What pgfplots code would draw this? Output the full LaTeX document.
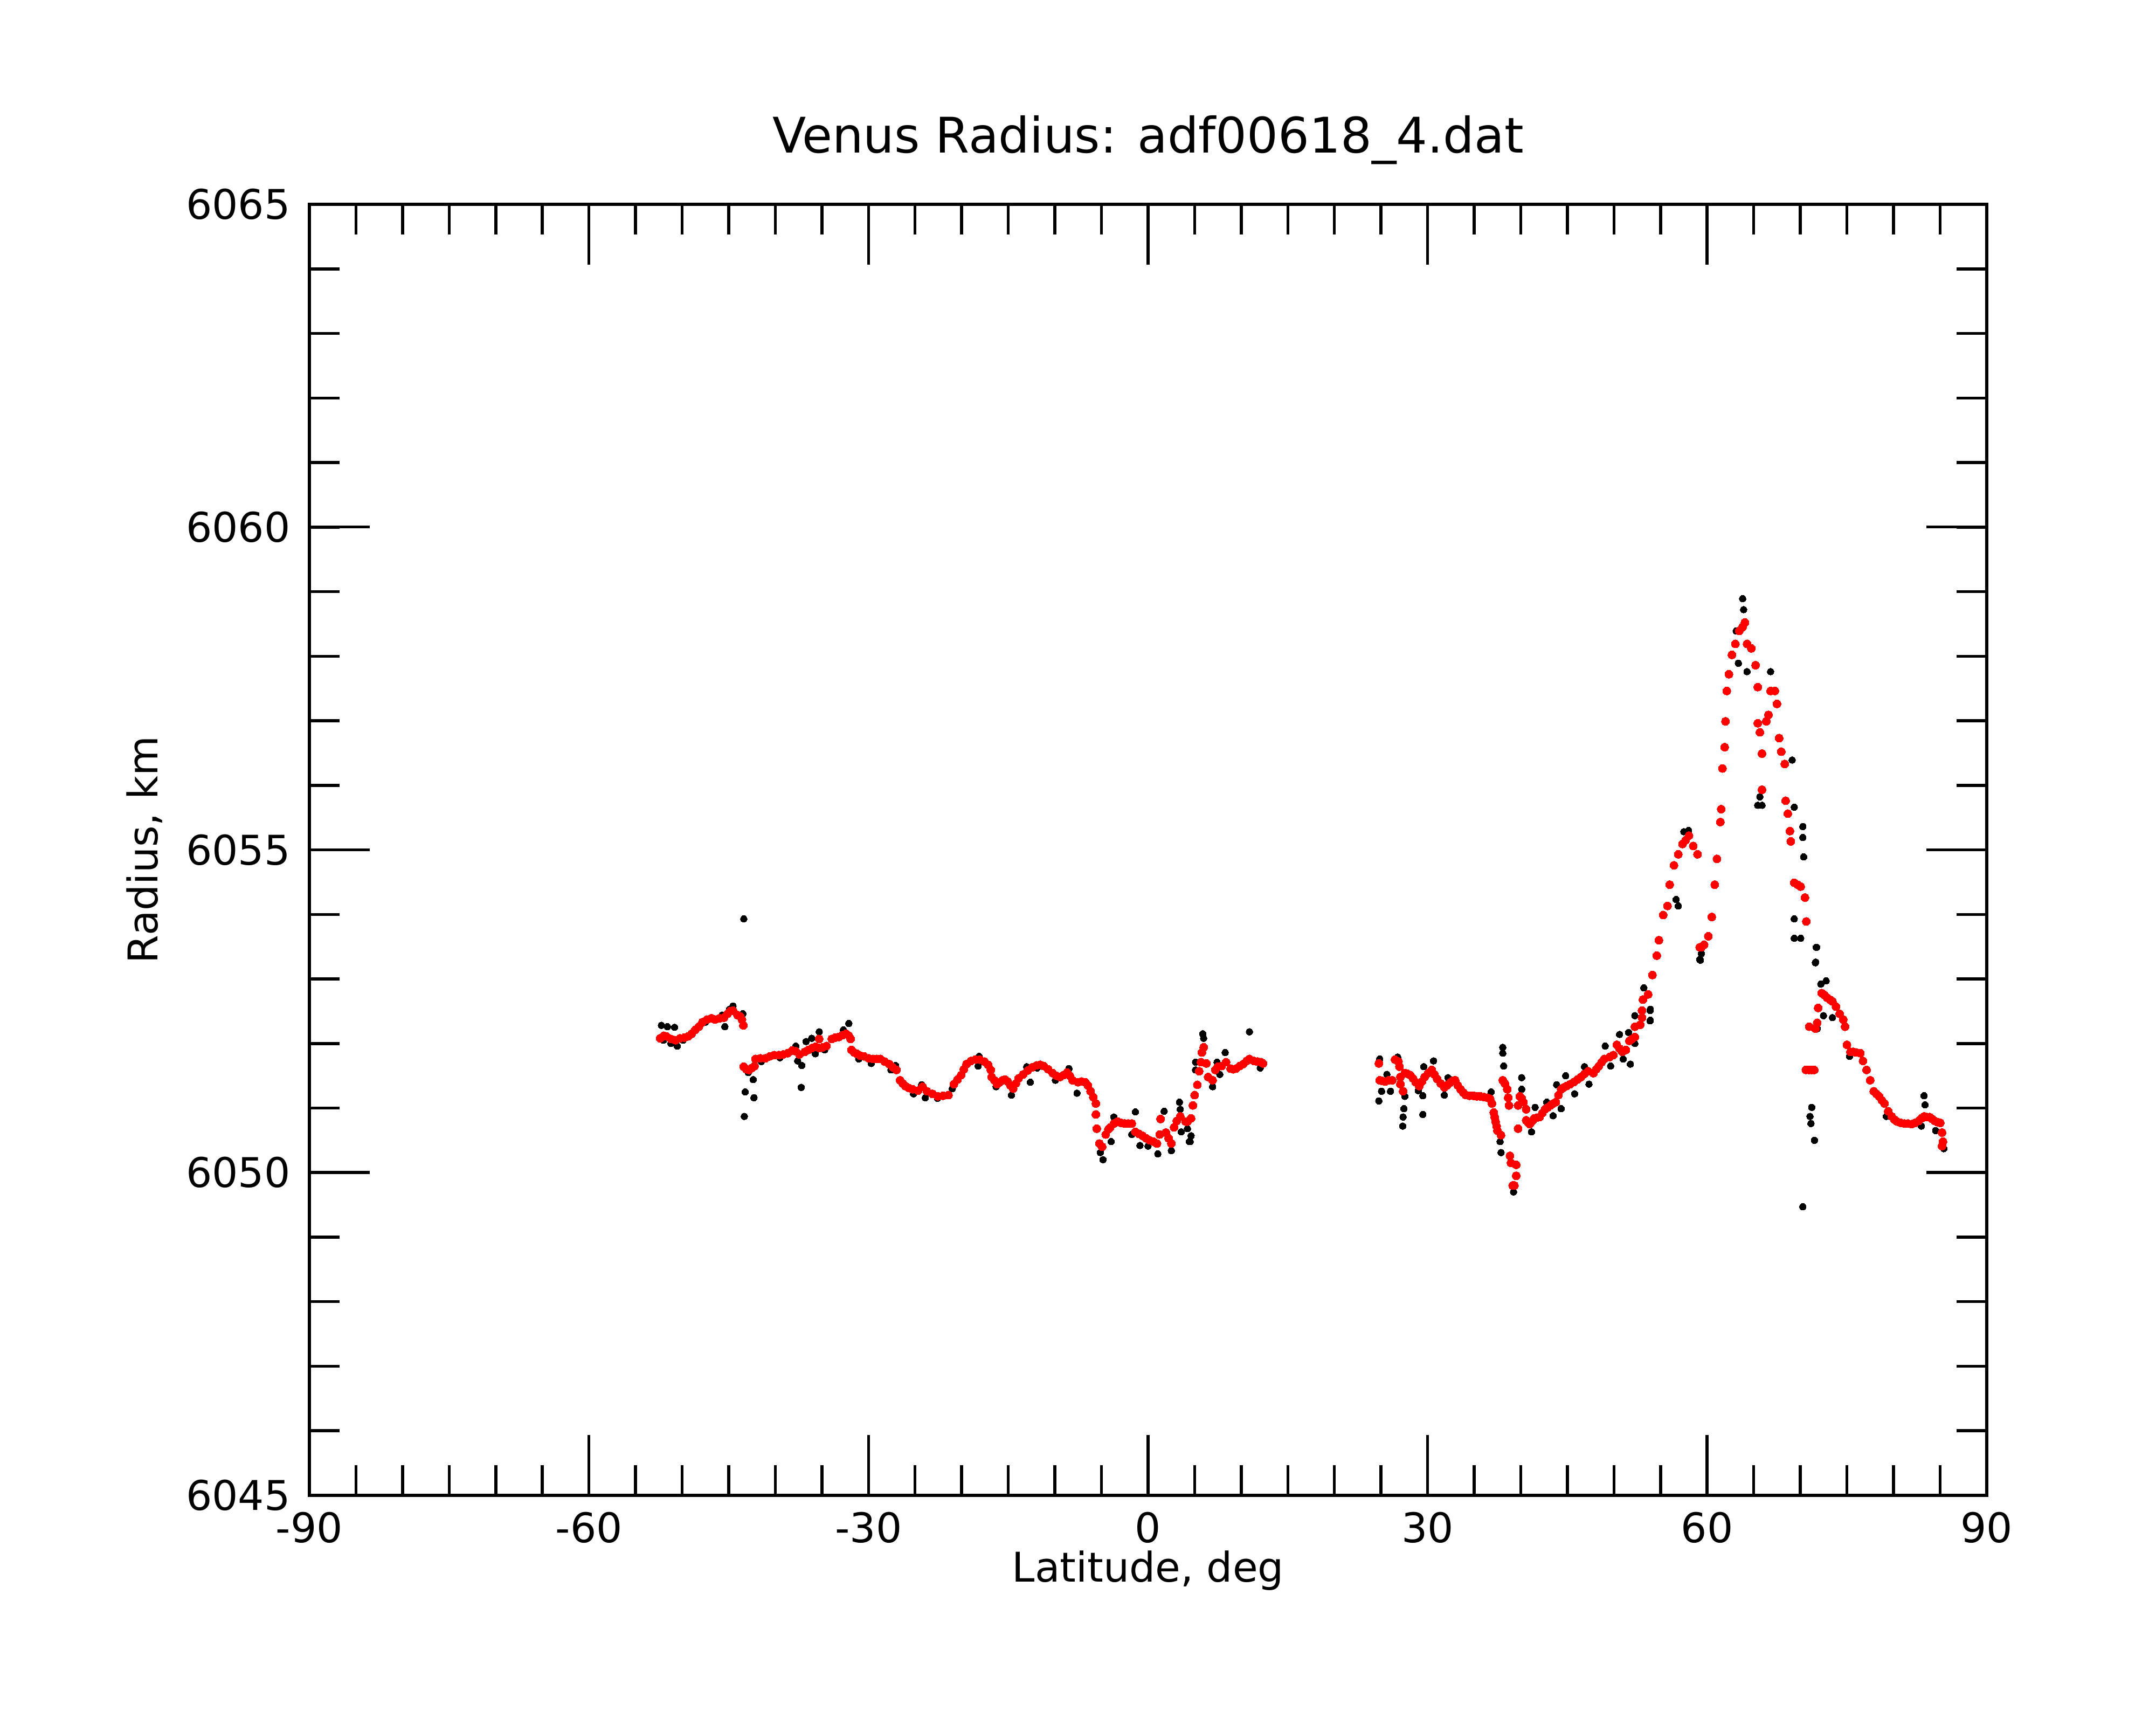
\documentclass[border=0pt]{standalone}
\usepackage{fontspec}
\setmainfont{DejaVu Sans}
\usepackage{pgfplots}
\pgfplotsset{compat=1.18}
\usepackage{pgfplotstable}

\pgfplotstableread{
lat r
-52.22 6052.28
-51.58 6052.26
-50.81 6052.25
-51.20 6052.00
-50.52 6051.96
-45.41 6052.26
-44.54 6052.58
-43.48 6052.46
-45.70 6052.44
-52.00 6052.05
-49.90 6052.05
-47.50 6052.33
-44.90 6052.53
-43.38 6053.93
-43.33 6050.87
-43.23 6051.25
-42.29 6051.16
-42.37 6051.44
-42.90 6051.55
-37.22 6051.32
-37.16 6051.66
-37.60 6051.73
-37.80 6051.96
-35.29 6052.18
-36.10 6052.08
-35.71 6051.84
-34.70 6051.90
-32.11 6052.31
-32.69 6052.21
-31.05 6051.76
-29.70 6051.69
-27.58 6051.59
-27.10 6051.66
-25.17 6051.22
-24.30 6051.36
-23.90 6051.16
-36.70 6052.03
-41.50 6051.72
-39.50 6051.78
-18.13 6051.80
-18.23 6051.65
-14.66 6051.20
-12.63 6051.40
-13.02 6051.64
-7.62 6051.23
-8.49 6051.61
-9.94 6051.43
-4.83 6050.20
-5.12 6050.31
-3.96 6050.48
-3.67 6050.86
-1.36 6050.94
-1.74 6050.59
-0.87 6050.42
1.05 6050.29
1.73 6050.95
2.50 6050.34
3.37 6051.09
3.46 6050.98
3.56 6050.63
4.52 6050.48
4.62 6050.57
5.10 6051.71
5.10 6051.59
0.00 6050.41
-22.60 6051.15
-21.00 6051.30
-16.30 6051.33
-11.90 6051.62
5.87 6052.15
5.97 6052.08
10.88 6052.18
8.28 6051.86
12.04 6051.62
6.93 6051.33
4.43 6050.48
4.23 6050.68
7.41 6051.71
7.70 6051.52
24.86 6051.76
24.77 6051.11
25.06 6051.26
25.63 6051.52
26.02 6051.26
26.79 6051.79
27.56 6051.18
27.46 6050.99
27.37 6050.86
27.33 6050.72
29.49 6050.90
29.49 6051.19
29.59 6051.64
30.64 6051.73
29.00 6051.27
31.80 6051.20
32.19 6051.47
38.07 6051.94
38.07 6051.85
38.17 6051.65
37.88 6050.31
37.78 6050.48
39.23 6049.70
40.10 6051.47
40.10 6051.29
41.15 6050.63
41.54 6051.01
42.79 6051.09
43.47 6050.88
43.85 6051.36
44.33 6050.99
44.82 6051.50
45.78 6051.22
46.84 6051.64
47.32 6051.37
49.06 6051.96
49.64 6051.65
50.60 6052.14
50.99 6051.76
51.57 6052.17
51.76 6051.68
52.24 6052.43
53.88 6052.51
53.88 6052.35
52.24 6052.00
36.82 6051.25
53.21 6052.86
53.90 6052.36
53.90 6052.53
56.67 6054.23
56.90 6054.13
57.50 6055.28
58.00 6055.30
59.20 6053.30
59.28 6053.29
59.38 6053.39
63.81 6058.89
63.91 6058.72
63.35 6057.89
64.28 6057.76
63.12 6058.39
66.81 6057.76
65.89 6055.69
65.66 6055.82
65.43 6055.69
70.27 6055.36
70.27 6055.19
70.36 6054.89
69.35 6053.93
69.35 6053.63
70.04 6053.63
71.75 6053.49
71.65 6053.26
71.71 6053.49
71.62 6053.25
70.27 6049.47
69.35 6055.66
69.12 6056.39
72.20 6052.92
72.77 6052.97
72.49 6052.43
73.45 6052.40
71.81 6052.23
71.23 6051.01
71.04 6050.87
71.14 6050.76
71.52 6050.50
75.28 6051.80
79.23 6050.87
83.28 6051.19
83.38 6051.05
82.99 6050.72
84.53 6050.65
85.40 6050.37
}\rawdata

\pgfplotstableread{
lat r
-52.35 6052.08
-51.97 6052.12
-51.68 6052.11
-51.20 6052.07
-50.71 6052.05
-50.23 6052.08
-49.75 6052.09
-49.36 6052.11
-48.98 6052.15
-48.59 6052.21
-48.20 6052.26
-47.82 6052.33
-47.34 6052.37
-46.86 6052.39
-46.47 6052.37
-45.99 6052.39
-45.51 6052.40
-45.12 6052.46
-44.83 6052.50
-44.54 6052.51
-44.06 6052.44
-43.77 6052.42
-43.58 6052.37
-43.43 6052.28
-43.39 6051.64
-43.10 6051.60
-42.81 6051.59
-42.52 6051.62
-42.23 6051.65
-42.13 6051.76
-41.60 6051.77
-41.07 6051.77
-40.59 6051.80
-40.11 6051.82
-39.62 6051.82
-39.14 6051.83
-38.66 6051.85
-38.18 6051.89
-37.80 6051.88
-37.41 6051.83
-36.83 6051.87
-36.45 6051.90
-36.06 6051.93
-35.68 6051.95
-35.29 6052.07
-35.29 6051.93
-34.90 6051.94
-34.52 6051.96
-33.94 6052.07
-33.56 6052.09
-33.17 6052.10
-32.78 6052.13
-32.40 6052.15
-32.11 6052.12
-31.92 6052.07
-31.82 6051.90
-31.53 6051.86
-31.24 6051.84
-30.86 6051.81
-30.47 6051.80
-29.98 6051.77
-29.50 6051.76
-29.12 6051.76
-28.73 6051.76
-28.25 6051.72
-27.77 6051.68
-27.38 6051.63
-27.00 6051.59
-26.61 6051.43
-26.32 6051.38
-26.04 6051.34
-25.65 6051.31
-25.26 6051.29
-24.69 6051.27
-24.20 6051.33
-23.72 6051.26
-23.14 6051.22
-22.56 6051.18
-21.99 6051.19
-21.41 6051.20
-20.83 6051.37
-20.45 6051.44
-20.06 6051.51
-19.77 6051.60
-19.48 6051.68
-19.00 6051.73
-18.52 6051.75
-18.04 6051.75
-17.55 6051.72
-17.17 6051.67
-16.88 6051.59
-16.78 6051.48
-16.49 6051.43
-16.20 6051.37
-15.91 6051.40
-15.62 6051.43
-15.34 6051.44
-15.05 6051.41
-14.76 6051.35
-14.47 6051.30
-14.18 6051.38
-13.89 6051.46
-13.41 6051.52
-12.92 6051.58
-12.44 6051.63
-11.96 6051.66
-11.57 6051.67
-11.19 6051.65
-10.71 6051.60
-10.23 6051.54
-9.84 6051.50
-9.45 6051.48
-9.07 6051.51
-8.68 6051.55
-8.39 6051.50
-8.10 6051.43
-7.52 6051.40
-7.14 6051.41
-6.75 6051.40
-6.46 6051.35
-6.17 6051.26
-5.88 6051.17
-5.60 6051.07
-5.60 6050.90
-5.50 6050.68
-5.21 6050.45
-4.92 6050.40
-4.54 6050.59
-4.25 6050.67
-4.06 6050.70
-3.67 6050.76
-3.28 6050.79
-2.89 6050.77
-2.51 6050.76
-2.12 6050.76
-1.74 6050.76
-1.36 6050.63
-0.97 6050.60
-0.59 6050.57
-0.20 6050.53
0.18 6050.50
0.57 6050.48
0.96 6050.45
1.34 6050.83
1.25 6050.59
1.92 6050.62
2.21 6050.53
2.50 6050.45
2.79 6050.70
3.08 6050.80
3.46 6050.87
4.04 6050.79
4.23 6050.79
4.62 6050.84
4.81 6051.04
5.00 6051.20
5.29 6051.36
5.49 6051.57
5.68 6051.71
5.78 6051.86
5.97 6051.94
6.26 6051.69
6.45 6051.48
6.93 6051.43
7.22 6051.59
7.51 6051.64
7.90 6051.65
8.38 6051.71
8.86 6051.61
9.15 6051.60
9.44 6051.61
9.83 6051.65
10.21 6051.68
10.59 6051.73
10.88 6051.76
11.37 6051.73
11.75 6051.72
12.14 6051.71
12.33 6051.69
24.77 6051.69
24.86 6051.43
25.15 6051.42
25.44 6051.41
25.83 6051.43
26.21 6051.43
26.50 6051.75
26.88 6051.72
26.98 6051.64
27.08 6051.48
27.08 6051.37
27.37 6051.26
27.56 6051.54
27.85 6051.53
28.14 6051.51
28.43 6051.46
28.72 6051.40
29.10 6051.34
29.39 6051.41
29.68 6051.48
30.07 6051.54
30.45 6051.59
30.74 6051.52
31.03 6051.45
31.41 6051.38
31.80 6051.32
32.09 6051.35
32.38 6051.39
32.67 6051.42
32.96 6051.43
33.25 6051.35
33.54 6051.29
33.83 6051.24
34.12 6051.20
34.51 6051.19
34.89 6051.19
35.28 6051.18
35.66 6051.18
36.05 6051.17
36.43 6051.16
36.72 6051.14
36.91 6051.07
37.10 6050.93
37.20 6050.86
37.30 6050.79
37.40 6050.72
37.49 6050.65
37.88 6050.58
38.07 6051.43
38.30 6051.38
38.55 6051.29
38.65 6051.16
38.74 6051.04
38.84 6050.26
38.94 6050.15
39.51 6050.12
39.51 6049.95
39.13 6049.80
39.32 6049.80
39.71 6050.68
39.71 6051.04
39.90 6051.18
40.10 6051.15
40.29 6051.09
40.58 6050.98
40.58 6050.81
40.77 6050.78
40.96 6050.75
41.25 6050.80
41.44 6050.84
41.73 6050.85
42.02 6050.86
42.31 6050.92
42.60 6050.98
42.89 6051.01
43.18 6051.04
43.47 6051.07
43.76 6051.09
44.05 6051.20
44.33 6051.29
44.62 6051.32
44.91 6051.34
45.30 6051.37
45.68 6051.40
46.07 6051.44
46.46 6051.48
46.84 6051.53
47.23 6051.57
47.80 6051.54
48.09 6051.60
48.38 6051.65
48.67 6051.71
48.96 6051.76
49.54 6051.79
49.93 6051.82
50.31 6051.98
50.60 6051.92
50.89 6051.87
51.28 6051.90
51.66 6052.04
51.95 6052.07
52.24 6052.10
52.24 6052.26
52.82 6052.29
53.01 6052.40
53.01 6052.51
53.11 6052.68
53.67 6052.76
54.13 6053.06
54.60 6053.36
54.83 6053.60
55.29 6053.99
55.75 6054.13
55.98 6054.46
56.44 6054.76
56.90 6054.93
57.36 6055.09
57.70 6055.15
58.05 6055.22
58.51 6055.06
58.97 6054.93
59.20 6053.49
59.38 6053.49
59.67 6053.53
60.13 6053.66
60.50 6053.96
60.82 6054.46
61.05 6054.86
61.42 6055.43
61.51 6055.63
61.65 6056.26
61.88 6056.59
61.97 6056.99
62.11 6057.46
62.34 6057.72
62.66 6058.02
63.03 6058.19
63.45 6058.39
63.80 6058.45
64.05 6058.52
64.28 6058.19
64.74 6058.12
65.20 6057.86
65.43 6057.52
65.43 6056.96
65.66 6056.82
65.89 6056.49
65.89 6055.93
66.35 6056.99
66.58 6057.09
66.81 6057.46
67.27 6057.46
67.50 6057.26
67.73 6056.73
67.96 6056.52
68.33 6056.33
68.43 6055.76
68.66 6055.56
68.89 6055.29
68.98 6055.13
69.35 6054.49
69.70 6054.46
70.04 6054.43
70.50 6054.26
70.64 6053.89
70.96 6052.26
70.60 6051.59
70.90 6051.59
71.20 6051.59
71.50 6051.59
71.62 6052.23
71.81 6052.32
71.91 6052.55
72.29 6052.78
72.58 6052.75
72.87 6052.71
73.16 6052.68
73.45 6052.65
73.83 6052.57
74.22 6052.46
74.61 6052.37
74.80 6052.26
75.00 6051.98
75.38 6051.87
75.67 6051.87
75.96 6051.86
76.44 6051.85
76.73 6051.73
77.11 6051.59
77.50 6051.43
77.88 6051.26
78.17 6051.22
78.46 6051.18
78.75 6051.12
79.04 6051.07
79.43 6050.95
79.81 6050.87
80.10 6050.82
80.39 6050.79
80.78 6050.77
81.16 6050.76
81.55 6050.76
81.93 6050.75
82.32 6050.77
82.70 6050.80
83.00 6050.84
83.28 6050.87
83.57 6050.86
83.86 6050.86
84.15 6050.83
84.44 6050.80
84.73 6050.78
85.02 6050.77
85.21 6050.62
85.31 6050.48
85.21 6050.41
}\smoothdata

\begin{document}
\begin{tikzpicture}
\path[use as bounding box] (0pt,0pt) rectangle (400pt,320pt);
\begin{axis}[
  at={(57.4pt,42.6pt)}, anchor=south west,
  scale only axis, width=311.2pt, height=239.5pt,
  xmin=-90, xmax=90, ymin=6045, ymax=6065,
  xtick={-90,-60,-30,0,30,60,90},
  xticklabels={-90,-60,-30,0,30,60,90},
  minor xtick={-85,-80,...,85},
  ytick={6045,6050,6055,6060,6065},
  yticklabels={6045,6050,6055,6060,6065},
  minor ytick={6046,6047,...,6064},
  tick align=inside, tick pos=both,
  major tick length=11.2pt, minor tick length=5.6pt,
  every tick/.style={black, line width=0.55pt},
  axis line style={line width=0.55pt},
  tick label style={font=\fontsize{7.6pt}{9pt}\selectfont},
  xticklabel style={yshift=0.4pt},
  every axis title shift=0pt,
  title={Venus Radius: adf00618\_4.dat},
  title style={font=\fontsize{9.1pt}{11pt}\selectfont, at={(axis description cs:0.5,1.0397)}, anchor=base},
  xlabel={Latitude, deg},
  xlabel style={font=\fontsize{7.6pt}{9pt}\selectfont, at={(axis description cs:0.5,-0.0672)}, anchor=base},
  ylabel={Radius, km},
  ylabel style={font=\fontsize{7.6pt}{9pt}\selectfont, at={(axis description cs:-0.0906,0.5)}, anchor=base},
]
\addplot[black, only marks, mark=*, mark size=0.62pt, mark options={draw=black, fill=black, line width=0pt}] table[x=lat, y=r] {\rawdata};
\addplot[red, only marks, mark=*, mark size=0.75pt, mark options={draw=red, fill=red, line width=0pt}] table[x=lat, y=r] {\smoothdata};
\end{axis}
\end{tikzpicture}
\end{document}
